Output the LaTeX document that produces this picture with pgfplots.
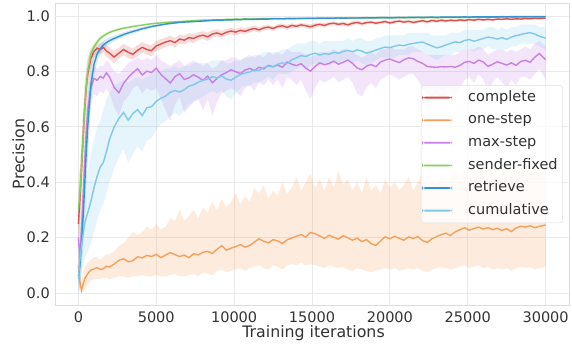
\documentclass[border=0pt]{standalone}
\usepackage{fontspec}
\setmainfont{DejaVu Sans}
\usepackage{pgfplots}
\usepackage{pgfplotstable}
\pgfplotsset{compat=1.18}
\usepgfplotslibrary{fillbetween}
\definecolor{cR}{RGB}{218,82,78}
\definecolor{cO}{RGB}{245,160,90}
\definecolor{cM}{RGB}{200,128,228}
\definecolor{cS}{RGB}{132,208,88}
\definecolor{cB}{RGB}{52,148,210}
\definecolor{cU}{RGB}{128,200,235}
\definecolor{frameC}{RGB}{220,220,220}
\definecolor{gridC}{RGB}{234,234,234}
\definecolor{txtC}{RGB}{50,50,50}
\pgfplotstableread{
x c cl ch o ol oh m ml mh s sl sh r rl rh u ul uh
0 0.25 0.15 0.35 0.10 0.05 0.15 0.20 0.10 0.30 0.30 0.20 0.40 0.06 0.00 0.14 0.05 0.01 0.10
100 0.34 0.24 0.44 0.04 0.01 0.08 0.13 0.05 0.22 0.36 0.26 0.46 0.10 0.02 0.20 0.12 0.04 0.20
200 0.45 0.35 0.55 0.01 0.00 0.04 0.22 0.12 0.32 0.45 0.36 0.54 0.18 0.08 0.30 0.17 0.07 0.28
300 0.56 0.46 0.66 0.03 0.005 0.07 0.34 0.24 0.44 0.56 0.48 0.64 0.27 0.16 0.40 0.21 0.10 0.34
400 0.66 0.57 0.75 0.05 0.015 0.09 0.47 0.37 0.57 0.66 0.59 0.73 0.38 0.26 0.50 0.25 0.12 0.40
500 0.74 0.66 0.81 0.06 0.02 0.10 0.58 0.48 0.66 0.74 0.69 0.79 0.50 0.38 0.62 0.27 0.14 0.42
600 0.79 0.73 0.85 0.07 0.03 0.11 0.66 0.58 0.73 0.80 0.76 0.84 0.60 0.48 0.71 0.29 0.15 0.44
800 0.845 0.81 0.88 0.083 0.045 0.12 0.74 0.68 0.79 0.862 0.84 0.884 0.75 0.68 0.82 0.33 0.18 0.50
1000 0.872 0.85 0.895 0.087 0.05 0.13 0.775 0.72 0.82 0.888 0.874 0.902 0.825 0.78 0.86 0.38 0.22 0.55
1200 0.884 0.865 0.903 0.092 0.05 0.13 0.768 0.71 0.81 0.906 0.896 0.916 0.862 0.835 0.887 0.42 0.26 0.60
1400 0.879 0.86 0.90 0.085 0.05 0.12 0.782 0.73 0.82 0.919 0.911 0.927 0.882 0.862 0.90 0.455 0.30 0.62
1600 0.887 0.868 0.906 0.088 0.055 0.13 0.776 0.72 0.82 0.928 0.921 0.935 0.895 0.879 0.911 0.47 0.32 0.66
1800 0.874 0.853 0.895 0.097 0.055 0.14 0.795 0.74 0.84 0.935 0.929 0.941 0.904 0.89 0.918 0.51 0.36 0.70
2000 0.866 0.845 0.887 0.094 0.05 0.14 0.78 0.72 0.83 0.941 0.935 0.947 0.911 0.899 0.923 0.555 0.40 0.72
2300 0.852 0.83 0.873 0.105 0.055 0.15 0.742 0.67 0.80 0.947 0.942 0.952 0.919 0.909 0.929 0.60 0.45 0.75
2600 0.866 0.846 0.886 0.118 0.06 0.17 0.723 0.64 0.79 0.952 0.947 0.957 0.926 0.917 0.935 0.63 0.49 0.76
2900 0.879 0.859 0.899 0.124 0.06 0.18 0.757 0.69 0.81 0.956 0.952 0.960 0.933 0.925 0.941 0.652 0.52 0.77
3200 0.869 0.848 0.89 0.113 0.055 0.20 0.778 0.71 0.83 0.959 0.955 0.963 0.939 0.931 0.947 0.624 0.47 0.76
3500 0.862 0.842 0.882 0.117 0.06 0.22 0.795 0.74 0.84 0.962 0.958 0.966 0.944 0.937 0.951 0.648 0.50 0.77
3800 0.876 0.856 0.896 0.131 0.06 0.21 0.81 0.75 0.85 0.965 0.962 0.968 0.949 0.942 0.956 0.662 0.53 0.78
4100 0.887 0.868 0.906 0.127 0.065 0.22 0.787 0.72 0.84 0.967 0.964 0.970 0.954 0.948 0.960 0.641 0.51 0.77
4400 0.879 0.86 0.898 0.136 0.06 0.24 0.801 0.74 0.85 0.970 0.967 0.973 0.958 0.952 0.964 0.669 0.55 0.78
4700 0.875 0.855 0.895 0.132 0.06 0.23 0.796 0.73 0.84 0.972 0.969 0.975 0.962 0.957 0.967 0.673 0.56 0.79
5000 0.892 0.874 0.91 0.14 0.065 0.25 0.812 0.74 0.86 0.974 0.971 0.977 0.965 0.960 0.970 0.692 0.59 0.80
5300 0.899 0.881 0.917 0.128 0.06 0.23 0.789 0.70 0.84 0.975 0.972 0.978 0.968 0.964 0.972 0.703 0.61 0.80
5600 0.906 0.889 0.923 0.137 0.06 0.24 0.774 0.66 0.83 0.977 0.974 0.980 0.971 0.967 0.975 0.711 0.62 0.81
5900 0.911 0.894 0.928 0.146 0.065 0.27 0.758 0.62 0.82 0.978 0.975 0.981 0.973 0.969 0.977 0.725 0.64 0.81
6200 0.904 0.887 0.921 0.139 0.07 0.26 0.781 0.68 0.83 0.979 0.976 0.982 0.975 0.971 0.979 0.731 0.65 0.82
6500 0.917 0.90 0.934 0.132 0.06 0.30 0.792 0.71 0.84 0.980 0.977 0.983 0.977 0.974 0.980 0.726 0.64 0.81
6800 0.913 0.897 0.929 0.137 0.06 0.26 0.771 0.65 0.82 0.981 0.978 0.984 0.978 0.975 0.981 0.734 0.66 0.82
7100 0.922 0.906 0.938 0.128 0.065 0.28 0.777 0.67 0.83 0.982 0.979 0.985 0.979 0.976 0.982 0.747 0.68 0.82
7400 0.919 0.903 0.935 0.142 0.07 0.30 0.788 0.69 0.84 0.983 0.980 0.986 0.980 0.977 0.983 0.752 0.69 0.83
7700 0.927 0.912 0.942 0.138 0.06 0.27 0.779 0.70 0.83 0.984 0.981 0.987 0.981 0.978 0.984 0.761 0.70 0.83
8000 0.931 0.917 0.945 0.147 0.075 0.31 0.768 0.66 0.82 0.985 0.982 0.988 0.982 0.979 0.985 0.768 0.71 0.83
8300 0.925 0.91 0.94 0.151 0.07 0.29 0.783 0.70 0.83 0.985 0.982 0.988 0.983 0.980 0.986 0.772 0.72 0.83
8600 0.935 0.921 0.949 0.143 0.065 0.33 0.759 0.64 0.81 0.986 0.983 0.989 0.984 0.981 0.987 0.781 0.73 0.84
8900 0.939 0.926 0.952 0.158 0.08 0.30 0.774 0.69 0.82 0.987 0.984 0.990 0.985 0.982 0.988 0.776 0.72 0.84
9200 0.933 0.92 0.946 0.171 0.085 0.34 0.788 0.72 0.84 0.986 0.983 0.989 0.985 0.982 0.988 0.784 0.73 0.84
9500 0.941 0.929 0.953 0.155 0.075 0.31 0.796 0.73 0.84 0.988 0.985 0.991 0.986 0.983 0.989 0.772 0.71 0.83
9800 0.946 0.934 0.958 0.162 0.08 0.33 0.806 0.74 0.85 0.988 0.985 0.991 0.986 0.983 0.989 0.768 0.70 0.83
10100 0.942 0.93 0.954 0.168 0.085 0.36 0.799 0.73 0.85 0.989 0.986 0.992 0.987 0.984 0.990 0.779 0.72 0.84
10400 0.948 0.937 0.959 0.175 0.09 0.32 0.792 0.71 0.84 0.988 0.985 0.991 0.987 0.984 0.990 0.789 0.74 0.84
10700 0.945 0.934 0.956 0.166 0.08 0.35 0.805 0.74 0.85 0.990 0.987 0.993 0.988 0.985 0.991 0.794 0.75 0.85
11000 0.951 0.941 0.961 0.172 0.09 0.33 0.811 0.75 0.86 0.989 0.986 0.992 0.988 0.985 0.991 0.798 0.75 0.85
11300 0.955 0.945 0.965 0.184 0.095 0.38 0.803 0.73 0.85 0.990 0.987 0.993 0.988 0.985 0.991 0.806 0.76 0.86
11600 0.95 0.94 0.96 0.196 0.10 0.36 0.815 0.76 0.86 0.990 0.987 0.993 0.989 0.986 0.992 0.803 0.76 0.86
11900 0.957 0.948 0.966 0.187 0.09 0.39 0.809 0.75 0.85 0.991 0.988 0.994 0.989 0.986 0.992 0.814 0.77 0.87
12200 0.96 0.951 0.969 0.181 0.085 0.34 0.822 0.77 0.87 0.990 0.987 0.993 0.989 0.986 0.992 0.819 0.78 0.87
12500 0.955 0.946 0.964 0.193 0.10 0.37 0.817 0.75 0.86 0.991 0.988 0.994 0.990 0.987 0.993 0.816 0.77 0.87
12800 0.962 0.954 0.97 0.188 0.095 0.35 0.823 0.77 0.87 0.991 0.988 0.994 0.990 0.987 0.993 0.826 0.79 0.87
13100 0.965 0.957 0.973 0.179 0.085 0.40 0.815 0.74 0.86 0.990 0.987 0.993 0.990 0.987 0.993 0.831 0.79 0.88
13400 0.959 0.95 0.968 0.192 0.10 0.36 0.834 0.78 0.88 0.991 0.988 0.994 0.991 0.988 0.994 0.828 0.79 0.88
13700 0.966 0.958 0.974 0.199 0.105 0.38 0.826 0.77 0.87 0.992 0.989 0.995 0.990 0.987 0.993 0.842 0.80 0.89
14000 0.963 0.955 0.971 0.205 0.10 0.42 0.821 0.75 0.87 0.991 0.988 0.994 0.991 0.988 0.994 0.849 0.81 0.90
14300 0.968 0.96 0.976 0.211 0.11 0.37 0.828 0.77 0.87 0.992 0.989 0.995 0.991 0.988 0.994 0.857 0.82 0.90
14600 0.965 0.957 0.973 0.202 0.10 0.40 0.812 0.73 0.86 0.992 0.989 0.995 0.991 0.988 0.994 0.854 0.81 0.90
14900 0.961 0.952 0.97 0.219 0.105 0.43 0.801 0.70 0.85 0.991 0.988 0.994 0.992 0.989 0.995 0.861 0.82 0.91
15200 0.967 0.959 0.975 0.214 0.10 0.38 0.818 0.74 0.86 0.992 0.989 0.995 0.991 0.988 0.994 0.866 0.83 0.91
15500 0.97 0.963 0.977 0.206 0.095 0.41 0.831 0.77 0.87 0.993 0.990 0.996 0.992 0.989 0.995 0.859 0.82 0.90
15800 0.966 0.958 0.974 0.197 0.09 0.37 0.824 0.76 0.87 0.992 0.989 0.995 0.992 0.989 0.995 0.864 0.83 0.91
16100 0.972 0.965 0.979 0.209 0.10 0.42 0.829 0.77 0.87 0.993 0.990 0.996 0.992 0.989 0.995 0.862 0.82 0.91
16400 0.974 0.967 0.981 0.201 0.095 0.38 0.837 0.78 0.88 0.992 0.989 0.995 0.992 0.989 0.995 0.869 0.83 0.91
16700 0.97 0.963 0.977 0.195 0.09 0.44 0.826 0.76 0.87 0.993 0.990 0.996 0.993 0.990 0.996 0.866 0.83 0.91
17000 0.973 0.966 0.98 0.207 0.095 0.39 0.833 0.77 0.88 0.993 0.990 0.996 0.992 0.989 0.995 0.872 0.84 0.91
17300 0.968 0.961 0.975 0.199 0.085 0.41 0.841 0.78 0.88 0.992 0.989 0.995 0.993 0.990 0.996 0.876 0.84 0.92
17600 0.974 0.967 0.981 0.191 0.08 0.37 0.829 0.76 0.87 0.993 0.990 0.996 0.993 0.990 0.996 0.871 0.83 0.91
17900 0.977 0.97 0.984 0.198 0.09 0.40 0.812 0.72 0.86 0.993 0.990 0.996 0.993 0.990 0.996 0.878 0.84 0.92
18200 0.972 0.965 0.979 0.186 0.085 0.36 0.806 0.71 0.85 0.994 0.991 0.997 0.993 0.990 0.996 0.873 0.83 0.92
18500 0.976 0.969 0.983 0.193 0.08 0.42 0.819 0.74 0.86 0.993 0.990 0.996 0.994 0.991 0.997 0.866 0.82 0.91
18800 0.978 0.972 0.984 0.178 0.075 0.37 0.825 0.76 0.87 0.994 0.991 0.997 0.993 0.990 0.996 0.871 0.83 0.91
19100 0.974 0.968 0.98 0.172 0.08 0.39 0.817 0.74 0.86 0.993 0.990 0.996 0.994 0.991 0.997 0.877 0.84 0.92
19400 0.977 0.971 0.983 0.188 0.085 0.36 0.834 0.77 0.88 0.994 0.991 0.997 0.994 0.991 0.997 0.883 0.85 0.92
19700 0.98 0.974 0.986 0.203 0.09 0.41 0.841 0.78 0.88 0.994 0.991 0.997 0.994 0.991 0.997 0.888 0.85 0.93
20000 0.975 0.969 0.981 0.196 0.085 0.38 0.845 0.79 0.89 0.993 0.990 0.996 0.994 0.991 0.997 0.886 0.85 0.93
20300 0.979 0.973 0.985 0.205 0.09 0.40 0.838 0.78 0.88 0.994 0.991 0.997 0.994 0.991 0.997 0.891 0.85 0.93
20600 0.982 0.976 0.988 0.198 0.08 0.37 0.832 0.77 0.88 0.994 0.991 0.997 0.995 0.992 0.998 0.895 0.86 0.93
20900 0.978 0.972 0.984 0.191 0.085 0.39 0.842 0.78 0.88 0.995 0.992 0.998 0.994 0.991 0.997 0.893 0.86 0.93
21200 0.981 0.975 0.987 0.203 0.09 0.42 0.849 0.79 0.89 0.994 0.991 0.997 0.995 0.992 0.998 0.898 0.86 0.94
21500 0.977 0.971 0.983 0.197 0.085 0.37 0.846 0.79 0.89 0.994 0.991 0.997 0.995 0.992 0.998 0.901 0.87 0.94
21800 0.98 0.974 0.986 0.204 0.09 0.40 0.836 0.77 0.88 0.995 0.992 0.998 0.995 0.992 0.998 0.904 0.87 0.94
22100 0.983 0.977 0.989 0.189 0.08 0.44 0.829 0.74 0.87 0.994 0.991 0.997 0.995 0.992 0.998 0.906 0.87 0.94
22400 0.979 0.973 0.985 0.183 0.075 0.38 0.818 0.72 0.86 0.995 0.992 0.998 0.995 0.992 0.998 0.899 0.86 0.94
22700 0.984 0.978 0.99 0.196 0.085 0.41 0.816 0.71 0.86 0.995 0.992 0.998 0.996 0.993 0.999 0.892 0.85 0.93
23000 0.981 0.975 0.987 0.204 0.09 0.39 0.815 0.72 0.86 0.994 0.991 0.997 0.995 0.992 0.998 0.885 0.84 0.93
23300 0.985 0.979 0.991 0.211 0.095 0.43 0.817 0.70 0.86 0.995 0.992 0.998 0.996 0.993 0.999 0.889 0.85 0.93
23600 0.982 0.976 0.988 0.216 0.09 0.40 0.816 0.72 0.86 0.995 0.992 0.998 0.996 0.993 0.999 0.896 0.86 0.93
23900 0.985 0.98 0.99 0.208 0.085 0.42 0.818 0.73 0.86 0.995 0.992 0.998 0.996 0.993 0.999 0.901 0.86 0.94
24200 0.983 0.977 0.989 0.221 0.09 0.45 0.815 0.71 0.86 0.996 0.993 0.999 0.996 0.993 0.999 0.907 0.87 0.94
24500 0.986 0.981 0.991 0.229 0.095 0.41 0.822 0.74 0.87 0.995 0.992 0.998 0.996 0.993 0.999 0.904 0.87 0.94
24800 0.984 0.979 0.989 0.236 0.10 0.44 0.833 0.77 0.88 0.995 0.992 0.998 0.997 0.994 1.000 0.912 0.88 0.95
25100 0.987 0.982 0.992 0.227 0.09 0.42 0.836 0.78 0.88 0.996 0.993 0.999 0.996 0.993 0.999 0.915 0.88 0.95
25400 0.985 0.98 0.99 0.233 0.095 0.46 0.829 0.76 0.88 0.995 0.992 0.998 0.997 0.994 1.000 0.909 0.87 0.95
25700 0.988 0.983 0.993 0.238 0.10 0.43 0.841 0.79 0.89 0.996 0.993 0.999 0.997 0.994 1.000 0.914 0.88 0.95
26000 0.986 0.981 0.991 0.231 0.09 0.45 0.834 0.77 0.88 0.996 0.993 0.999 0.997 0.994 1.000 0.919 0.88 0.95
26300 0.988 0.983 0.993 0.236 0.095 0.42 0.818 0.73 0.86 0.995 0.992 0.998 0.997 0.994 1.000 0.924 0.89 0.96
26600 0.986 0.981 0.991 0.229 0.085 0.44 0.826 0.76 0.87 0.996 0.993 0.999 0.997 0.994 1.000 0.921 0.88 0.96
26900 0.989 0.985 0.993 0.234 0.09 0.41 0.835 0.78 0.88 0.996 0.993 0.999 0.997 0.994 1.000 0.917 0.88 0.95
27200 0.988 0.984 0.992 0.226 0.085 0.43 0.829 0.76 0.88 0.996 0.993 0.999 0.998 0.995 1.000 0.922 0.88 0.96
27500 0.99 0.986 0.994 0.232 0.09 0.46 0.823 0.74 0.87 0.997 0.994 1.000 0.997 0.994 1.000 0.916 0.88 0.95
27800 0.988 0.984 0.992 0.222 0.08 0.42 0.831 0.77 0.88 0.996 0.993 0.999 0.998 0.995 1.000 0.924 0.89 0.96
28100 0.99 0.986 0.994 0.235 0.09 0.44 0.822 0.75 0.87 0.996 0.993 0.999 0.998 0.995 1.000 0.929 0.89 0.96
28400 0.989 0.985 0.993 0.241 0.095 0.47 0.836 0.78 0.88 0.997 0.994 1.000 0.998 0.995 1.000 0.933 0.90 0.97
28700 0.991 0.987 0.995 0.238 0.09 0.43 0.84 0.78 0.89 0.996 0.993 0.999 0.998 0.995 1.000 0.937 0.90 0.97
29000 0.99 0.986 0.994 0.243 0.095 0.45 0.833 0.77 0.88 0.997 0.994 1.000 0.998 0.995 1.000 0.94 0.90 0.97
29300 0.992 0.988 0.996 0.236 0.085 0.42 0.851 0.79 0.90 0.997 0.994 1.000 0.998 0.995 1.000 0.935 0.90 0.97
29600 0.991 0.987 0.995 0.241 0.09 0.46 0.865 0.81 0.91 0.996 0.993 0.999 0.998 0.995 1.000 0.927 0.89 0.96
30000 0.993 0.989 0.997 0.246 0.095 0.44 0.842 0.77 0.89 0.997 0.994 1.000 0.998 0.995 1.000 0.92 0.88 0.96
}\data
\begin{document}
\begin{tikzpicture}
\begin{axis}[
  name=ax,
  scale only axis,
  width=514bp, height=302bp,
  xmin=-1500, xmax=31500,
  ymin=-0.043, ymax=1.047,
  xtick={0,5000,10000,15000,20000,25000,30000},
  ytick={0,0.2,0.4,0.6,0.8,1.0},
  scaled x ticks=false,
  /pgf/number format/assume math mode=true,
  xticklabel style={/pgf/number format/set thousands separator={}},
  yticklabel style={/pgf/number format/fixed, /pgf/number format/fixed zerofill, /pgf/number format/precision=1},
  ticklabel style={font=\fontsize{14.5bp}{17bp}\selectfont, text=txtC, inner sep=0pt},
  every x tick label/.append style={anchor=north, yshift=-7bp},
  every y tick label/.append style={anchor=east, xshift=-5bp},
  major tick length=0pt,
  tick style={draw=none},
  axis line style={draw=frameC, line width=0.9bp},
  grid=major,
  major grid style={draw=gridC, line width=0.9bp},
  xlabel={Training iterations},
  ylabel={Precision},
  label style={font=\fontsize{15.8bp}{18bp}\selectfont, text=txtC},
  xlabel style={at={(axis description cs:0.503,-0.109)}, anchor=base},
  ylabel style={at={(axis description cs:-0.071,0.5)}, anchor=center},
  legend style={at={(0.988,0.728)}, anchor=north east, draw=frameC, fill=white, fill opacity=0.8, text opacity=1, rounded corners=3bp,
    font=\fontsize{14.5bp}{17bp}\selectfont, text=txtC, row sep=0pt, column sep=0pt, inner xsep=1bp, inner ysep=1bp,
    nodes={inner xsep=4bp, inner ysep=4bp, text height=11bp, text depth=3.6bp}},
  legend cell align=left,
  legend image code/.code={\fill[#1, draw=none, fill opacity=1] (0bp,-0.9bp) rectangle (30bp,0.9bp); \path[draw=none, fill=none] (42bp,0bp);},
  clip=true,
]
% complete
\addplot[name path=cLo, draw=none, forget plot] table[x=x, y=cl] {\data};
\addplot[name path=cHi, draw=none, forget plot] table[x=x, y=ch] {\data};
\addplot[fill=cR, fill opacity=0.2, draw=none, forget plot] fill between[of=cHi and cLo];
\addplot[cR, line width=1.4bp, forget plot] table[x=x, y=c] {\data};
% one-step
\addplot[name path=oLo, draw=none, forget plot] table[x=x, y=ol] {\data};
\addplot[name path=oHi, draw=none, forget plot] table[x=x, y=oh] {\data};
\addplot[fill=cO, fill opacity=0.2, draw=none, forget plot] fill between[of=oHi and oLo];
\addplot[cO, line width=1.4bp, forget plot] table[x=x, y=o] {\data};
% max-step
\addplot[name path=mLo, draw=none, forget plot] table[x=x, y=ml] {\data};
\addplot[name path=mHi, draw=none, forget plot] table[x=x, y=mh] {\data};
\addplot[fill=cM, fill opacity=0.2, draw=none, forget plot] fill between[of=mHi and mLo];
\addplot[cM, line width=1.4bp, forget plot] table[x=x, y=m] {\data};
% sender-fixed
\addplot[name path=sLo, draw=none, forget plot] table[x=x, y=sl] {\data};
\addplot[name path=sHi, draw=none, forget plot] table[x=x, y=sh] {\data};
\addplot[fill=cS, fill opacity=0.2, draw=none, forget plot] fill between[of=sHi and sLo];
\addplot[cS, line width=1.4bp, forget plot] table[x=x, y=s] {\data};
% retrieve
\addplot[name path=rLo, draw=none, forget plot] table[x=x, y=rl] {\data};
\addplot[name path=rHi, draw=none, forget plot] table[x=x, y=rh] {\data};
\addplot[fill=cB, fill opacity=0.2, draw=none, forget plot] fill between[of=rHi and rLo];
\addplot[cB, line width=1.4bp, forget plot] table[x=x, y=r] {\data};
% cumulative
\addplot[name path=uLo, draw=none, forget plot] table[x=x, y=ul] {\data};
\addplot[name path=uHi, draw=none, forget plot] table[x=x, y=uh] {\data};
\addplot[fill=cU, fill opacity=0.2, draw=none, forget plot] fill between[of=uHi and uLo];
\addplot[cU, line width=1.4bp, forget plot] table[x=x, y=u] {\data};
% legend
\addlegendimage{fill=cR}\addlegendentry{complete}
\addlegendimage{fill=cO}\addlegendentry{one-step}
\addlegendimage{fill=cM}\addlegendentry{max-step}
\addlegendimage{fill=cS}\addlegendentry{sender-fixed}
\addlegendimage{fill=cB}\addlegendentry{retrieve}
\addlegendimage{fill=cU}\addlegendentry{cumulative}
\end{axis}
\path ([xshift=-55bp,yshift=-43bp]ax.south west) rectangle ([xshift=3bp,yshift=3bp]ax.north east);
\end{tikzpicture}
\end{document}
